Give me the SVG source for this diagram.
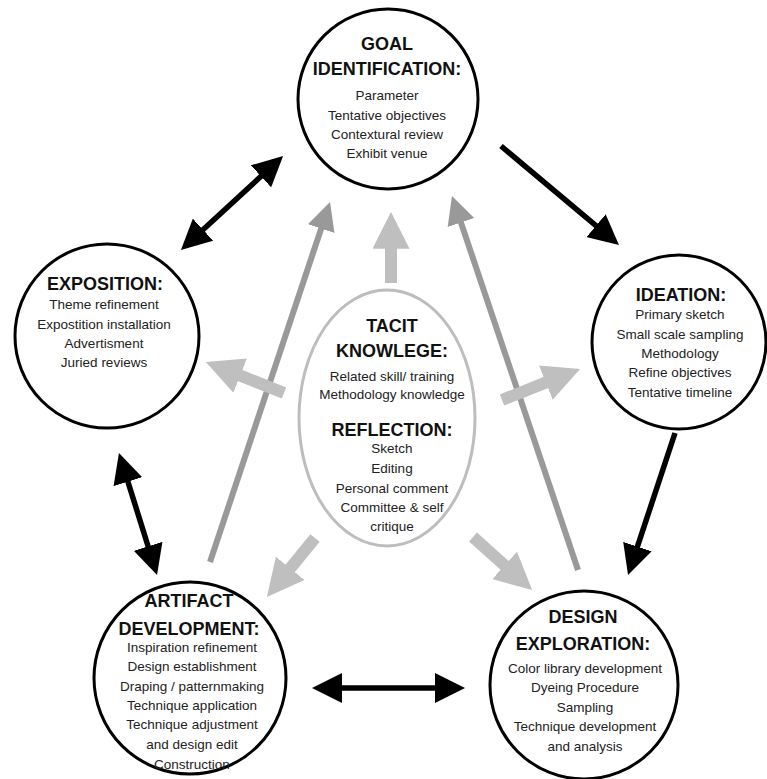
<svg xmlns="http://www.w3.org/2000/svg" width="767" height="779" viewBox="0 0 767 779">
<style>
.t{font-family:"Liberation Sans",Arial,Helvetica,sans-serif;font-weight:bold;font-size:18px;fill:#111;text-anchor:middle}
.b{font-family:"Liberation Sans",Arial,Helvetica,sans-serif;font-size:13.5px;fill:#222;text-anchor:middle}
.c{fill:#fff;stroke:#000;stroke-width:3}
.e{fill:#fff;stroke:#bdbdbd;stroke-width:3}
.k{stroke:#000;stroke-width:5.5;fill:none}
.g{stroke:#999;stroke-width:6;fill:none}
.l{stroke:#bfbfbf;stroke-width:12;fill:none}
</style>
<defs>
<marker id="hk" markerUnits="userSpaceOnUse" viewBox="0 0 10 10" markerWidth="30" markerHeight="30" refX="1" refY="5" orient="auto-start-reverse"><path d="M0,0 L10,5 L0,10 z" fill="#000"/></marker>
<marker id="hg" markerUnits="userSpaceOnUse" viewBox="0 0 10 10" markerWidth="28" markerHeight="30" refX="0.7" refY="5" orient="auto"><path d="M0,0 L10,5 L0,10 z" fill="#999"/></marker>
<marker id="hl" markerUnits="userSpaceOnUse" viewBox="0 0 10 10" markerWidth="37" markerHeight="37" refX="0.5" refY="5" orient="auto"><path d="M0,0 L10,5 L0,10 z" fill="#bfbfbf"/></marker>
</defs>
<rect width="767" height="779" fill="#fff"/>
<g id="connectors">
<line class="k" x1="200.8" y1="231.7" x2="263.2" y2="174.3" marker-start="url(#hk)" marker-end="url(#hk)"/>
<line class="k" x1="501" y1="146" x2="598.3" y2="227.6" marker-end="url(#hk)"/>
<line class="k" x1="675" y1="433" x2="636.5" y2="549.4" marker-end="url(#hk)"/>
<line class="k" x1="127" y1="478.8" x2="149" y2="549.2" marker-start="url(#hk)" marker-end="url(#hk)"/>
<line class="k" x1="339" y1="688" x2="438" y2="688" marker-start="url(#hk)" marker-end="url(#hk)"/>
<line class="g" x1="210" y1="562" x2="321.8" y2="226.7" marker-end="url(#hg)"/>
<line class="g" x1="578" y1="570" x2="460.3" y2="220.6" marker-end="url(#hg)"/>
<line class="l" x1="391" y1="283" x2="391" y2="247" marker-end="url(#hl)"/>
<line class="l" x1="284" y1="393" x2="238.5" y2="374.9" marker-end="url(#hl)"/>
<line class="l" x1="502" y1="400" x2="547.5" y2="381.9" marker-end="url(#hl)"/>
<line class="l" x1="315" y1="538" x2="289.1" y2="569.8" marker-end="url(#hl)"/>
<line class="l" x1="473" y1="537" x2="506" y2="566.6" marker-end="url(#hl)"/>
</g>
<g id="goal">
<circle class="c" cx="388" cy="99" r="90"/>
<text class="t" x="387" y="50">GOAL</text>
<text class="t" x="387" y="75">IDENTIFICATION:</text>
<text class="b" x="387" y="100">Parameter</text>
<text class="b" x="387" y="120">Tentative objectives</text>
<text class="b" x="387" y="139">Contextural review</text>
<text class="b" x="387" y="158">Exhibit venue</text>
</g>
<g id="ideation">
<circle class="c" cx="679" cy="342" r="87"/>
<text class="t" x="681" y="301">IDEATION:</text>
<text class="b" x="680" y="319">Primary sketch</text>
<text class="b" x="680" y="339">Small scale sampling</text>
<text class="b" x="680" y="358">Methodology</text>
<text class="b" x="680" y="377">Refine objectives</text>
<text class="b" x="680" y="397">Tentative timeline</text>
</g>
<g id="exposition">
<circle class="c" cx="107" cy="336" r="92"/>
<text class="t" x="105" y="290">EXPOSITION:</text>
<text class="b" x="104" y="309">Theme refinement</text>
<text class="b" x="104" y="329">Expostition installation</text>
<text class="b" x="104" y="348">Advertisment</text>
<text class="b" x="104" y="367">Juried reviews</text>
</g>
<g id="tacit">
<ellipse class="e" cx="387" cy="418" rx="88" ry="128"/>
<text class="t" x="392" y="332">TACIT</text>
<text class="t" x="392" y="357">KNOWLEGE:</text>
<text class="b" x="392" y="381">Related skill/ training</text>
<text class="b" x="392" y="399">Methodology knowledge</text>
<text class="t" x="392" y="436">REFLECTION:</text>
<text class="b" x="392" y="453">Sketch</text>
<text class="b" x="392" y="473">Editing</text>
<text class="b" x="392" y="493">Personal comment</text>
<text class="b" x="392" y="512">Committee &amp; self</text>
<text class="b" x="392" y="531">critique</text>
</g>
<g id="artifact">
<circle class="c" cx="190" cy="678" r="96"/>
<text class="t" x="189" y="607">ARTIFACT</text>
<text class="t" x="189" y="635">DEVELOPMENT:</text>
<text class="b" x="192" y="652">Inspiration refinement</text>
<text class="b" x="192" y="671">Design establishment</text>
<text class="b" x="192" y="691">Draping / patternmaking</text>
<text class="b" x="192" y="710">Technique application</text>
<text class="b" x="192" y="729">Technique adjustment</text>
<text class="b" x="192" y="749">and design edit</text>
<text class="b" x="192" y="769">Construction</text>
</g>
<g id="design">
<circle class="c" cx="584" cy="685" r="94"/>
<text class="t" x="583" y="623">DESIGN</text>
<text class="t" x="583" y="650">EXPLORATION:</text>
<text class="b" x="585" y="673">Color library development</text>
<text class="b" x="585" y="692">Dyeing Procedure</text>
<text class="b" x="585" y="712">Sampling</text>
<text class="b" x="585" y="731">Technique development</text>
<text class="b" x="585" y="751">and analysis</text>
</g>
</svg>
